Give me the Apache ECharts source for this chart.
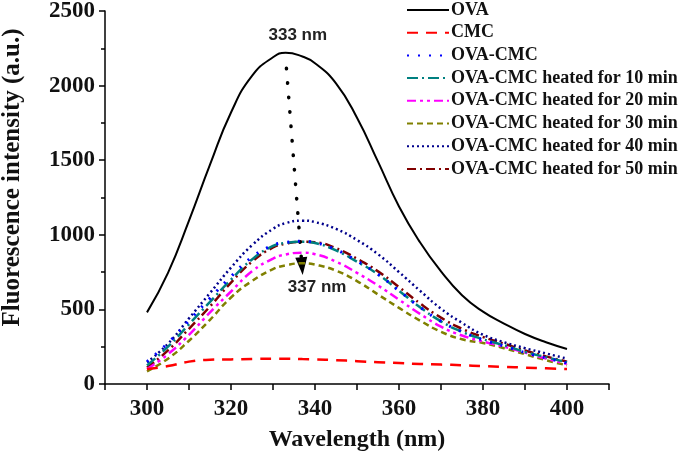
<!DOCTYPE html>
<html>
<head>
<meta charset="utf-8">
<script src="https://cdn.jsdelivr.net/npm/echarts@6/dist/echarts.min.js"></script>
<style>
  html, body { margin: 0; padding: 0; background: #fff; }
  #chart { width: 685px; height: 459px; }
</style>
</head>
<body>
<div id="chart"></div>
<script>
// wavelength (nm)
var wavelength = [300, 305, 310, 315, 320, 325, 330, 333, 337, 340, 345, 350, 355, 360, 365, 370, 375, 380, 385, 390, 395, 400];

// fluorescence intensity (a.u.)
var ova     = [480, 745, 1095, 1470, 1820, 2065, 2190, 2220, 2195, 2150, 2015, 1785, 1490, 1190, 950, 755, 595, 485, 405, 335, 280, 235];
var cmc     = [100, 120, 150, 163, 165, 168, 170, 170, 167, 165, 160, 153, 146, 140, 134, 130, 126, 120, 115, 110, 105, 100];
var ovaCmc  = [150, 275, 425, 575, 720, 850, 930, 948, 957, 948, 900, 825, 735, 625, 515, 420, 350, 295, 255, 210, 175, 140];
var heat10  = [125, 250, 400, 550, 700, 835, 925, 945, 954, 945, 895, 820, 735, 625, 515, 420, 350, 300, 260, 215, 180, 145];
var heat20  = [100, 200, 330, 480, 620, 755, 840, 868, 880, 870, 820, 745, 660, 565, 470, 385, 325, 285, 250, 210, 170, 135];
var heat30  = [85, 170, 290, 430, 580, 690, 770, 795, 809, 800, 760, 690, 600, 510, 425, 350, 300, 275, 240, 200, 160, 125];
var heat40  = [145, 270, 440, 610, 780, 930, 1040, 1078, 1095, 1085, 1040, 965, 870, 750, 625, 505, 410, 330, 280, 240, 205, 170];
var heat50  = [110, 225, 370, 520, 680, 820, 915, 940, 953, 950, 910, 840, 755, 650, 540, 445, 370, 315, 270, 225, 185, 150];

var seriesNames = ['OVA', 'CMC', 'OVA-CMC', 'OVA-CMC heated for 10 min', 'OVA-CMC heated for 20 min',
                   'OVA-CMC heated for 30 min', 'OVA-CMC heated for 40 min', 'OVA-CMC heated for 50 min'];
var seriesValues = [ova, cmc, ovaCmc, heat10, heat20, heat30, heat40, heat50];
var seriesColors = ['#000000', '#ff0000', '#0000ff', '#008080', '#ff00ff', '#808000', '#00008b', '#800000'];
var seriesDash = ['solid', [11, 8], [2, 9], [11, 4, 2, 4], [9, 4, 3, 4, 3, 4], [6, 4], [2, 3], [9, 4, 2, 4]];
var seriesWidth = [2, 2.5, 3, 2.5, 2.5, 2.5, 2.5, 2.5];

// peak shift annotation
var peakArrow = [[333.2, 2116], [336.9, 790]];
var peakLabels = [{ coord: [335.9, 2339], text: '333 nm' }, { coord: [340.5, 648], text: '337 nm' }];

var serif = "'Liberation Serif', 'Times New Roman', serif";

function pairs(values) {
  return wavelength.map(function (w, i) { return [w, values[i]]; });
}

var series = seriesNames.map(function (name, i) {
  return {
    name: name,
    type: 'line',
    smooth: true,
    symbol: 'none',
    data: pairs(seriesValues[i]),
    lineStyle: { color: seriesColors[i], width: seriesWidth[i], type: seriesDash[i] },
    itemStyle: { color: seriesColors[i] },
    z: 10 - i
  };
});

// arrow and labels hang on the OVA series
series[0].markLine = {
  silent: true,
  symbol: ['none', 'triangle'],
  symbolSize: [12, 18],
  label: { show: false },
  lineStyle: { color: '#000', width: 3.5, type: [0.5, 14], cap: 'round' },
  data: [[{ coord: peakArrow[0] }, { coord: peakArrow[1] }]]
};
series[0].markPoint = {
  silent: true,
  symbolSize: 0,
  label: {
    show: true,
    position: 'inside',
    color: '#222',
    fontFamily: "'Liberation Sans', Arial, sans-serif",
    fontWeight: 'bold',
    fontSize: 17,
    formatter: function (p) { return p.name; }
  },
  data: peakLabels.map(function (a) { return { coord: a.coord, name: a.text }; })
};

var chart = echarts.init(document.getElementById('chart'));
chart.setOption({
  animation: false,
  backgroundColor: '#fff',
  grid: { left: 105, right: 76, top: 11, bottom: 75, outerBoundsMode: 'none' },
  legend: {
    orient: 'vertical',
    left: 401,
    top: -4,
    itemWidth: 42,
    itemHeight: 14,
    itemGap: 4.7,
    data: seriesNames,
    itemStyle: { opacity: 0 },
    textStyle: { fontFamily: serif, fontWeight: 'bold', fontSize: 18, color: '#111', padding: [0, 0, 0, -3] }
  },
  xAxis: {
    type: 'value',
    min: 290,
    max: 410,
    interval: 10,
    name: 'Wavelength (nm)',
    nameLocation: 'middle',
    nameGap: 44,
    nameTextStyle: { fontFamily: serif, fontWeight: 'bold', fontSize: 24, color: '#111' },
    splitLine: { show: false },
    axisLine: { lineStyle: { color: '#000', width: 1.5 } },
    axisTick: { length: 6, lineStyle: { color: '#000', width: 1.5 } },
    axisLabel: {
      margin: 14,
      fontFamily: serif,
      fontWeight: 'bold',
      fontSize: 23,
      color: '#111',
      formatter: function (v) { return (v >= 300 && v <= 400 && (v - 300) % 20 === 0) ? String(v) : ''; }
    }
  },
  yAxis: {
    type: 'value',
    min: 0,
    max: 2500,
    interval: 500,
    name: 'Fluorescence intensity (a.u.)',
    nameLocation: 'middle',
    nameGap: 80,
    nameTextStyle: { fontFamily: serif, fontWeight: 'bold', fontSize: 25, color: '#111', padding: [0, 0, 0, 40] },
    splitLine: { show: false },
    axisLine: { show: true, lineStyle: { color: '#000', width: 1.5 } },
    axisTick: { show: true, length: 6, lineStyle: { color: '#000', width: 1.5 } },
    minorTick: { show: true, splitNumber: 2, length: 4, lineStyle: { color: '#000', width: 1.5 } },
    axisLabel: {
      margin: 10, fontFamily: serif, fontWeight: 'bold', fontSize: 23, color: '#111',
      formatter: function (v) { return String(v); }
    }
  },
  series: series
});
</script>
</body>
</html>
